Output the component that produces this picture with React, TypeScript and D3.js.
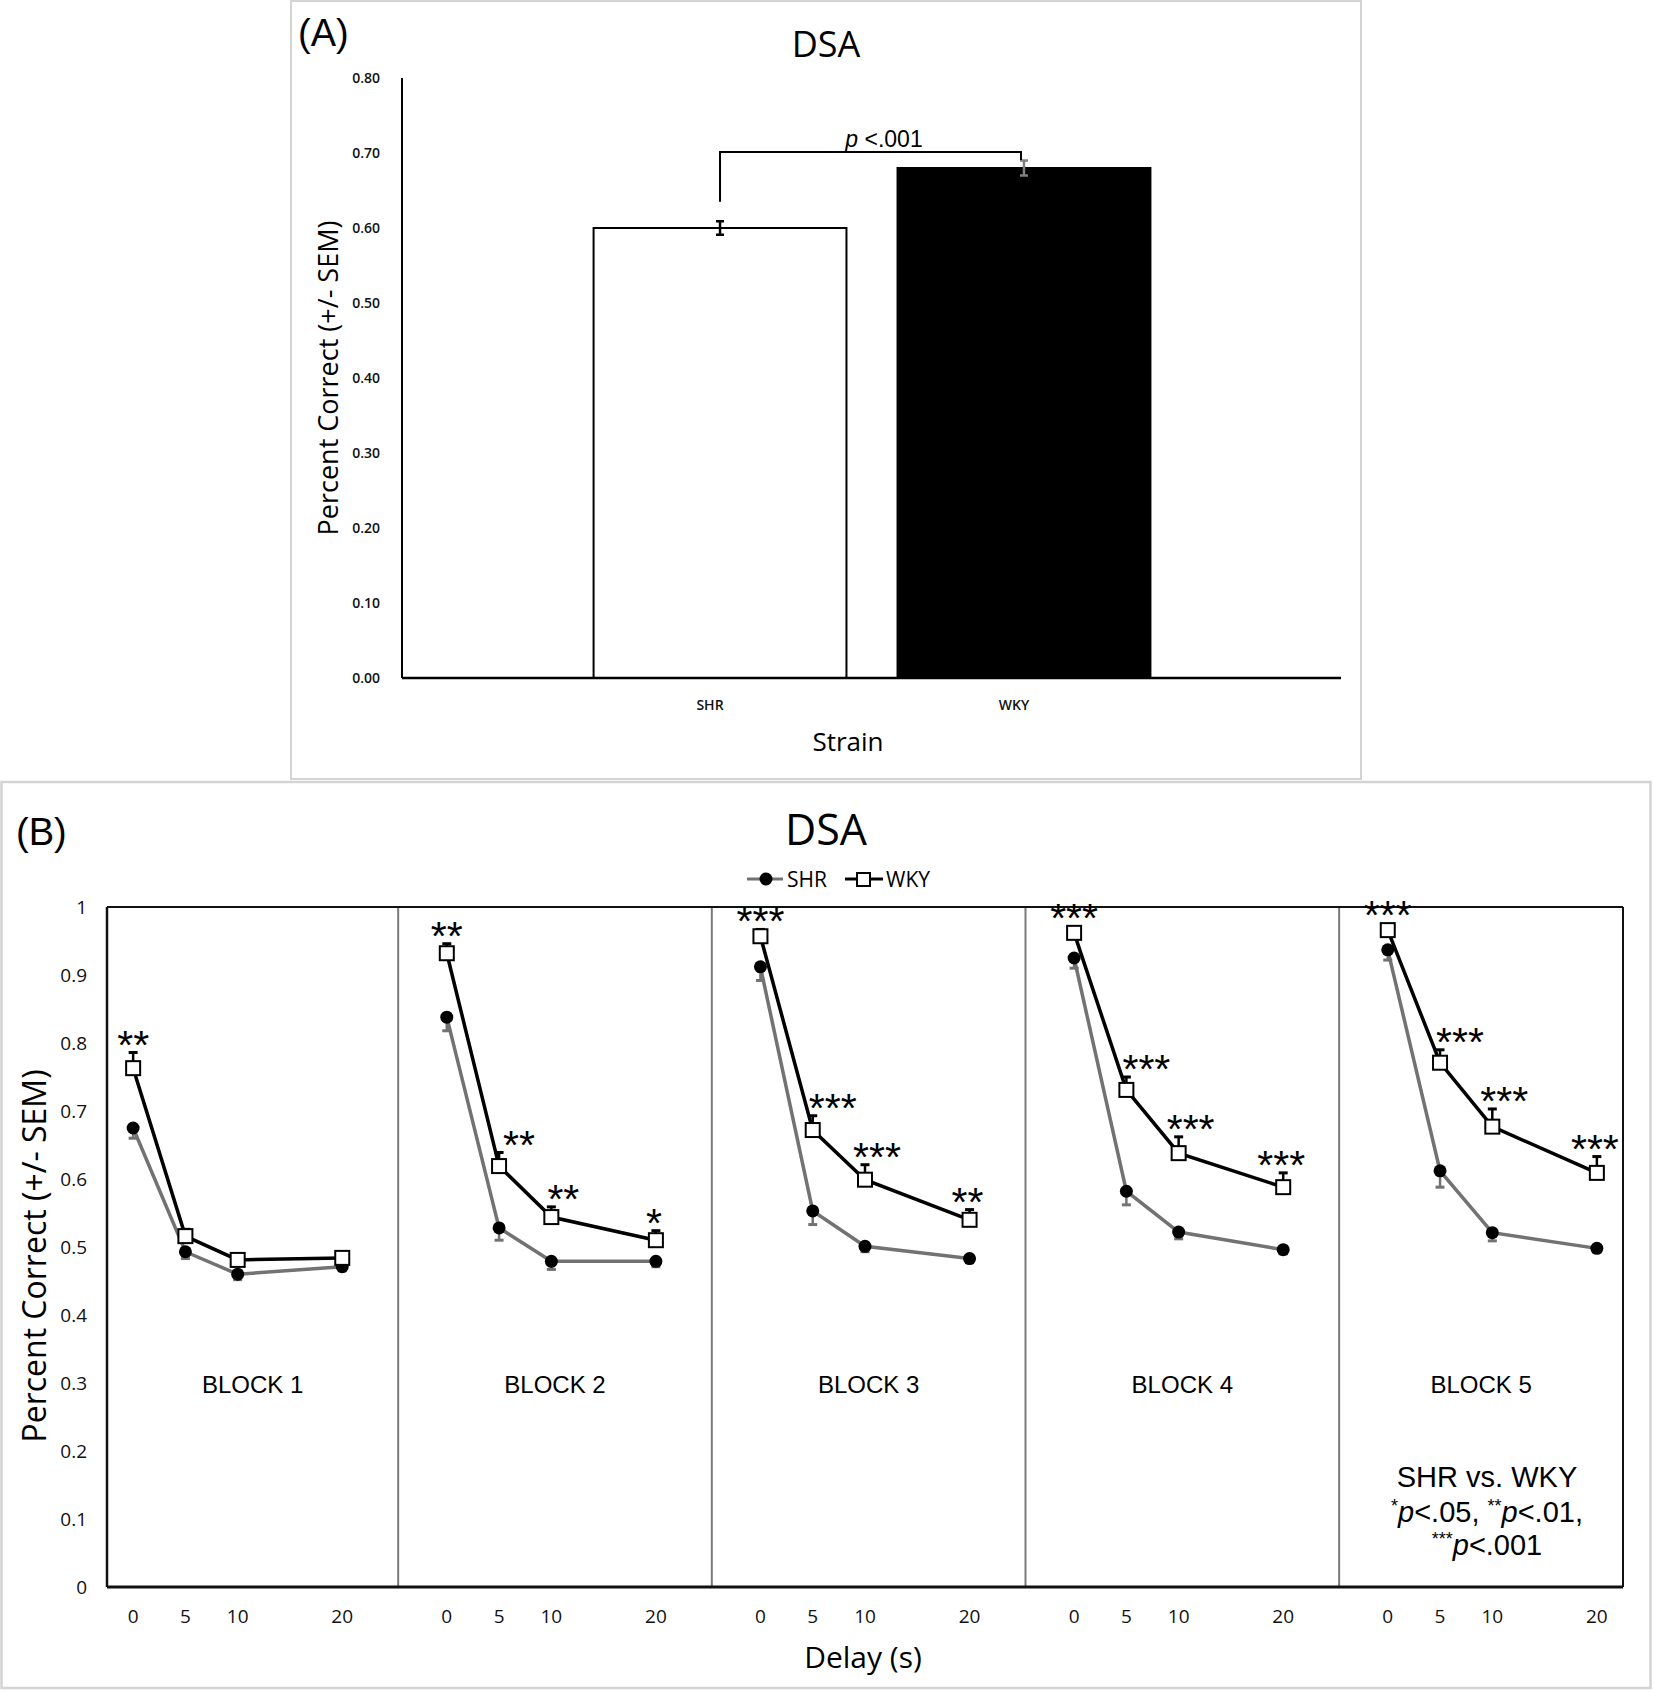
import React from 'react';
import * as d3 from 'd3';

// ---------- Panel A data ----------
const strains = ['SHR', 'WKY'];
const barMeans = [0.6, 0.68];
const barSems = [0.009, 0.01];
const barFills = ['#ffffff', '#000000'];
const barErrColors = ['#000000', '#808080'];
const barTicks = [0, 0.1, 0.2, 0.3, 0.4, 0.5, 0.6, 0.7, 0.8];

// ---------- Panel B data ----------
const delays = [0, 5, 10, 20];
const blocks = ['BLOCK 1', 'BLOCK 2', 'BLOCK 3', 'BLOCK 4', 'BLOCK 5'];
const shrMeans = [
  [0.675, 0.493, 0.46, 0.471],
  [0.838, 0.528, 0.479, 0.479],
  [0.912, 0.553, 0.501, 0.483],
  [0.925, 0.582, 0.522, 0.496],
  [0.937, 0.612, 0.521, 0.498],
];
const shrSems = [
  [0.015, 0.01, 0.008, 0.006],
  [0.02, 0.018, 0.012, 0.008],
  [0.02, 0.02, 0.008, 0.006],
  [0.015, 0.02, 0.01, 0.006],
  [0.015, 0.024, 0.012, 0.006],
];
const wkyMeans = [
  [0.763, 0.516, 0.481, 0.484],
  [0.932, 0.619, 0.544, 0.51],
  [0.957, 0.672, 0.599, 0.54],
  [0.962, 0.731, 0.638, 0.588],
  [0.966, 0.771, 0.677, 0.609],
];
const wkySems = [
  [0.023, 0.01, 0.008, 0.006],
  [0.014, 0.02, 0.015, 0.014],
  [0.01, 0.021, 0.022, 0.015],
  [0.008, 0.019, 0.024, 0.021],
  [0.008, 0.019, 0.026, 0.024],
];
const stars = [
  ['**', '', '', ''],
  ['**', '**', '**', '*'],
  ['***', '***', '***', '**'],
  ['***', '***', '***', '***'],
  ['***', '***', '***', '***'],
];
const lineTicks = [0, 0.1, 0.2, 0.3, 0.4, 0.5, 0.6, 0.7, 0.8, 0.9, 1];

const W = 1654;
const H = 1692;
const SANS = "'Open Sans', sans-serif";
const ARIAL = "'Liberation Sans', Arial, sans-serif";
const SHR_GRAY = '#727272';
const BLOCK_PERIOD = 30;
const DIVIDER_OFFSET = -4.65;
const STAR_DX = [0, 20, 12, -2];
const STAR_FS = 41;

export default function App() {
  // Panel A scales
  const yA = d3.scaleLinear().domain([0, 0.8]).range([678, 78]);
  const xA = d3
    .scaleBand<string>()
    .domain(strains)
    .range([403, 1341])
    .paddingInner(0.168)
    .paddingOuter(0.627);
  const fmtA = d3.format('.2f');
  const cx = (s: string) => (xA(s) as number) + xA.bandwidth() / 2;

  // Panel B scales
  const xB = d3.scaleLinear().domain([-2.5, 142.5]).range([107, 1623]);
  const yB = d3.scaleLinear().domain([0, 1]).range([1587, 907]);
  const px = (b: number, d: number) => xB(b * BLOCK_PERIOD + d);
  const line = d3
    .line<[number, number]>()
    .x((p) => p[0])
    .y((p) => p[1]);
  const dividers = blocks.slice(1).map((_, i) => (i + 1) * BLOCK_PERIOD + DIVIDER_OFFSET);
  const bounds = [xB.domain()[0], ...dividers, xB.domain()[1]];

  const bracketY = yA(0.70) - 1;

  return (
    <svg
      width={W}
      height={H}
      viewBox={`0 0 ${W} ${H}`}
      style={{ position: 'absolute', left: 0, top: 0, background: '#fff' }}
    >
      <rect x={0} y={0} width={W} height={H} fill="#fff" />

      {/* ================= Panel A ================= */}
      <rect x={291} y={1} width={1070} height={778} fill="none" stroke="#d4d4d4" strokeWidth={2} />
      <text x={298} y={46} fontFamily={ARIAL} fontSize={38} fill="#000">(A)</text>
      <text x={826} y={57} textAnchor="middle" fontFamily={SANS} fontSize={36} fill="#000">DSA</text>

      {barTicks.map((t) => (
        <text
          key={t}
          x={380}
          y={yA(t)}
          dy="0.35em"
          textAnchor="end"
          fontFamily={SANS}
          fontSize={14}
          fontWeight={600}
          fill="#111"
        >
          {fmtA(t)}
        </text>
      ))}
      <text
        transform={`translate(338, ${(yA(0.8) + yA(0)) / 2}) rotate(-90)`}
        textAnchor="middle"
        fontFamily={SANS}
        fontSize={27}
        fill="#000"
      >
        Percent Correct (+/- SEM)
      </text>

      {strains.map((s, i) => (
        <g key={s}>
          <rect
            x={xA(s)}
            y={yA(barMeans[i])}
            width={xA.bandwidth()}
            height={yA(0) - yA(barMeans[i])}
            fill={barFills[i]}
            stroke="#000"
            strokeWidth={2}
          />
          <line
            x1={cx(s)}
            x2={cx(s)}
            y1={yA(barMeans[i] - barSems[i])}
            y2={yA(barMeans[i] + barSems[i])}
            stroke={barErrColors[i]}
            strokeWidth={2.5}
          />
          <line
            x1={cx(s) - 4}
            x2={cx(s) + 4}
            y1={yA(barMeans[i] + barSems[i])}
            y2={yA(barMeans[i] + barSems[i])}
            stroke={barErrColors[i]}
            strokeWidth={2.5}
          />
          <line
            x1={cx(s) - 4}
            x2={cx(s) + 4}
            y1={yA(barMeans[i] - barSems[i])}
            y2={yA(barMeans[i] - barSems[i])}
            stroke={barErrColors[i]}
            strokeWidth={2.5}
          />
          <text
            x={cx(s) - 10}
            y={710}
            textAnchor="middle"
            fontFamily={SANS}
            fontSize={14}
            fontWeight={600}
            fill="#111"
          >
            {s}
          </text>
        </g>
      ))}
      {/* axes A */}
      <line x1={402} x2={402} y1={yA(0.8)} y2={yA(0)} stroke="#000" strokeWidth={2} />
      <line x1={402} x2={1341} y1={yA(0)} y2={yA(0)} stroke="#000" strokeWidth={2.5} />
      <text x={848} y={751} textAnchor="middle" fontFamily={SANS} fontSize={26} fill="#000">Strain</text>

      {/* significance bracket */}
      <path
        d={`M${cx('SHR')},${yA(barMeans[0] + 0.035)} V${bracketY} H${cx('WKY') - 3} V${bracketY + 8}`}
        fill="none"
        stroke="#000"
        strokeWidth={2}
      />
      <text x={884} y={147} textAnchor="middle" fontFamily={ARIAL} fontSize={23} fill="#000">
        <tspan fontStyle="italic">p</tspan> &lt;.001
      </text>

      {/* ================= Panel B ================= */}
      <rect x={1.5} y={782} width={1649} height={906} fill="none" stroke="#d4d4d4" strokeWidth={2.5} />
      <text x={16} y={845} fontFamily={ARIAL} fontSize={38} fill="#000">(B)</text>
      <text x={826} y={845} textAnchor="middle" fontFamily={SANS} fontSize={43} fill="#000">DSA</text>

      {/* legend */}
      <g>
        <line x1={747} x2={783} y1={879} y2={879} stroke={SHR_GRAY} strokeWidth={3} />
        <circle cx={766} cy={879} r={6.5} fill="#000" />
        <text x={787} y={879} dy="0.36em" fontFamily={SANS} fontSize={21} fill="#000">SHR</text>
        <line x1={845} x2={883} y1={879} y2={879} stroke="#000" strokeWidth={3} />
        <rect x={857} y={873} width={13} height={13} fill="#fff" stroke="#000" strokeWidth={2} />
        <text x={886} y={879} dy="0.36em" fontFamily={SANS} fontSize={21} fill="#000">WKY</text>
      </g>

      {/* dividers */}
      {dividers.map((d) => (
        <line key={d} x1={xB(d)} x2={xB(d)} y1={yB(1)} y2={yB(0)} stroke="#7a7a7a" strokeWidth={2} />
      ))}
      {/* frame */}
      <line x1={xB(-2.5)} x2={xB(142.5)} y1={yB(1)} y2={yB(1)} stroke="#111" strokeWidth={2} />
      <line x1={xB(142.5)} x2={xB(142.5)} y1={yB(1)} y2={yB(0)} stroke="#111" strokeWidth={2} />
      <line x1={xB(-2.5)} x2={xB(-2.5)} y1={yB(1)} y2={yB(0)} stroke="#111" strokeWidth={2.5} />
      <line x1={xB(-2.5)} x2={xB(142.5)} y1={yB(0)} y2={yB(0)} stroke="#111" strokeWidth={3} />

      {/* y ticks */}
      {lineTicks.map((t) => (
        <text
          key={t}
          x={87}
          y={yB(t)}
          dy="0.36em"
          textAnchor="end"
          fontFamily={SANS}
          fontSize={19}
          fill="#111"
        >
          {d3.format('~g')(t)}
        </text>
      ))}
      <text
        transform={`translate(46, ${(yB(1) + yB(0)) / 2 + 9}) rotate(-90)`}
        textAnchor="middle"
        fontFamily={SANS}
        fontSize={32}
        fill="#000"
      >
        Percent Correct (+/- SEM)
      </text>

      {/* x ticks */}
      {blocks.map((b, bi) =>
        delays.map((d) => (
          <text
            key={`${b}-${d}`}
            x={px(bi, d)}
            y={1616}
            dy="0.36em"
            textAnchor="middle"
            fontFamily={SANS}
            fontSize={19}
            fill="#111"
          >
            {d}
          </text>
        ))
      )}
      <text x={863} y={1668} textAnchor="middle" fontFamily={SANS} fontSize={30} fill="#000">Delay (s)</text>

      {/* block labels */}
      {blocks.map((b, bi) => (
        <text
          key={b}
          x={(xB(bounds[bi]) + xB(bounds[bi + 1])) / 2}
          y={1393}
          textAnchor="middle"
          fontFamily={ARIAL}
          fontSize={24}
          fill="#000"
        >
          {b}
        </text>
      ))}

      {/* series */}
      {blocks.map((b, bi) => {
        const shrPts = delays.map((d, i) => [px(bi, d), yB(shrMeans[bi][i])] as [number, number]);
        const wkyPts = delays.map((d, i) => [px(bi, d), yB(wkyMeans[bi][i])] as [number, number]);
        return (
          <g key={b}>
            {/* SHR error bars (minus) */}
            {delays.map((d, i) => {
              const x = px(bi, d);
              const y2 = yB(shrMeans[bi][i] - shrSems[bi][i]);
              return (
                <g key={d}>
                  <line x1={x} x2={x} y1={yB(shrMeans[bi][i])} y2={y2} stroke={SHR_GRAY} strokeWidth={2.5} />
                  <line x1={x - 4.5} x2={x + 4.5} y1={y2} y2={y2} stroke={SHR_GRAY} strokeWidth={3} />
                </g>
              );
            })}
            <path d={line(shrPts) || ''} fill="none" stroke={SHR_GRAY} strokeWidth={3.5} />
            {shrPts.map((p, i) => (
              <circle key={i} cx={p[0]} cy={p[1]} r={6.5} fill="#000" />
            ))}
            {/* WKY error bars (plus) */}
            {delays.map((d, i) => {
              const x = px(bi, d);
              const y2 = yB(wkyMeans[bi][i] + wkySems[bi][i]);
              return (
                <g key={d}>
                  <line x1={x} x2={x} y1={yB(wkyMeans[bi][i])} y2={y2} stroke="#000" strokeWidth={2.5} />
                  <line x1={x - 4.5} x2={x + 4.5} y1={y2} y2={y2} stroke="#000" strokeWidth={3} />
                </g>
              );
            })}
            <path d={line(wkyPts) || ''} fill="none" stroke="#000" strokeWidth={3.5} />
            {wkyPts.map((p, i) => (
              <rect key={i} x={p[0] - 7} y={p[1] - 7} width={14} height={14} fill="#fff" stroke="#000" strokeWidth={2} />
            ))}
            {/* significance stars */}
            {delays.map((d, i) =>
              stars[bi][i] ? (
                <text
                  key={`s${d}`}
                  x={px(bi, d) + STAR_DX[i]}
                  y={Math.min(yB(wkyMeans[bi][i] + wkySems[bi][i]), yB(wkyMeans[bi][i]) - 7) - 12 + 0.44 * STAR_FS}
                  textAnchor="middle"
                  fontFamily={ARIAL}
                  fontSize={STAR_FS}
                  fill="#000"
                >
                  {stars[bi][i]}
                </text>
              ) : null
            )}
          </g>
        );
      })}

      {/* legend note */}
      <text textAnchor="middle" fontFamily={ARIAL} fontSize={29} fill="#000">
        <tspan x={1487} y={1487}>SHR vs. WKY</tspan>
        <tspan x={1487} y={1522}>
          <tspan dy={-10} fontSize={18}>*</tspan>
          <tspan dy={10} fontStyle="italic">p</tspan>
          <tspan>&lt;.05, </tspan>
          <tspan dy={-10} fontSize={18}>**</tspan>
          <tspan dy={10} fontStyle="italic">p</tspan>
          <tspan>&lt;.01,</tspan>
        </tspan>
        <tspan x={1487} y={1555}>
          <tspan dy={-10} fontSize={18}>***</tspan>
          <tspan dy={10} fontStyle="italic">p</tspan>
          <tspan>&lt;.001</tspan>
        </tspan>
      </text>
    </svg>
  );
}
